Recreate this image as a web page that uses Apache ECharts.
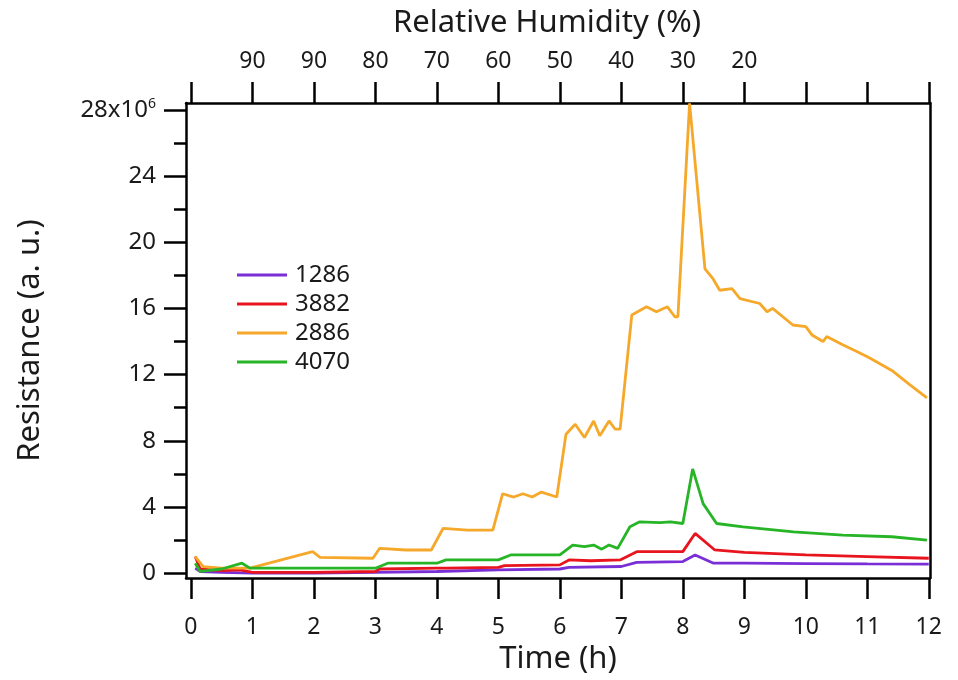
<!DOCTYPE html>
<html>
<head>
<meta charset="utf-8">
<script src="https://cdn.jsdelivr.net/npm/echarts@6/dist/echarts.min.js"></script>
<style>
  html, body { margin: 0; padding: 0; background: #fff; }
  #chart { width: 958px; height: 680px; }
</style>
</head>
<body>
<div id="chart"></div>
<script>
// time (h) ticks and humidity labels on the top axis
const hourTicks = [0, 1, 2, 3, 4, 5, 6, 7, 8, 9, 10, 11, 12];
const humidityLabels = ['', '90', '90', '80', '70', '60', '50', '40', '30', '20', '', '', ''];
const resistanceTicks = [0, 4, 8, 12, 16, 20, 24, 28];
const resistanceMinor = [2, 6, 10, 14, 18, 22, 26];

// [time h, resistance x10^6]
const s1286 = [
  [0.07, 0.3], [0.15, 0.1], [0.5, 0.05], [1, 0.0], [2, 0.0], [3, 0.05], [4, 0.1],
  [5, 0.2], [6, 0.25], [6.15, 0.35], [7, 0.4], [7.25, 0.65], [8, 0.7], [8.2, 1.1],
  [8.5, 0.6], [9, 0.6], [10, 0.58], [11, 0.56], [12, 0.55]
];
const s3882 = [
  [0.07, 1.0], [0.15, 0.25], [0.5, 0.15], [0.8, 0.2], [1, 0.05], [2, 0.05], [3, 0.1],
  [3.07, 0.25], [4, 0.3], [4.15, 0.3], [5, 0.35], [5.1, 0.45], [6, 0.5], [6.15, 0.8],
  [6.5, 0.75], [6.98, 0.8], [7.25, 1.3], [8, 1.3], [8.2, 2.4], [8.52, 1.4], [9, 1.25],
  [10, 1.1], [11, 1.0], [12, 0.9]
];
const s2886 = [
  [0.07, 1.0], [0.2, 0.4], [0.5, 0.3], [0.96, 0.3], [1.98, 1.3], [2.1, 0.95], [2.96, 0.9],
  [3.07, 1.5], [3.5, 1.4], [3.91, 1.4], [4.1, 2.7], [4.5, 2.6], [4.91, 2.6], [5.07, 4.8],
  [5.25, 4.6], [5.4, 4.8], [5.55, 4.6], [5.7, 4.9], [5.95, 4.6], [6.1, 8.4], [6.25, 9.0],
  [6.4, 8.2], [6.55, 9.2], [6.65, 8.3], [6.8, 9.2], [6.9, 8.7], [6.98, 8.7], [7.17, 15.6],
  [7.41, 16.1], [7.57, 15.8], [7.75, 16.1], [7.87, 15.5], [7.92, 15.5], [8.11, 28.4],
  [8.36, 18.4], [8.49, 17.8], [8.6, 17.1], [8.8, 17.2], [8.93, 16.6], [9.25, 16.3],
  [9.37, 15.8], [9.46, 16.0], [9.79, 15.0], [10.0, 14.9], [10.1, 14.4], [10.28, 14.0],
  [10.34, 14.3], [10.6, 13.8], [10.83, 13.4], [11.04, 13.0], [11.42, 12.2], [11.69, 11.4],
  [11.97, 10.6]
];
const s4070 = [
  [0.07, 0.6], [0.15, 0.1], [0.5, 0.25], [0.83, 0.6], [0.96, 0.3], [2, 0.3], [3, 0.3],
  [3.2, 0.6], [4, 0.6], [4.15, 0.8], [5, 0.8], [5.2, 1.1], [6, 1.1], [6.21, 1.7],
  [6.4, 1.6], [6.55, 1.7], [6.68, 1.45], [6.8, 1.7], [6.94, 1.5], [7.14, 2.8], [7.3, 3.1],
  [7.63, 3.05], [7.8, 3.1], [8.0, 3.0], [8.16, 6.3], [8.33, 4.2], [8.55, 3.0], [8.98, 2.8],
  [9.8, 2.5], [10.6, 2.3], [11.4, 2.2], [11.97, 2.0]
];

const FONT = 'Noto Sans';
const INK = '#1a1a1a';

const chart = echarts.init(document.getElementById('chart'));

const axisBase = {
  type: 'value',
  min: -0.08,
  max: 12.02,
  splitLine: { show: false },
  axisLine: { show: true, onZero: false, lineStyle: { color: '#000', width: 2.5 } },
  axisTick: { show: true, inside: false, length: 21, customValues: hourTicks, lineStyle: { color: '#000', width: 2.5 } },
  nameLocation: 'middle'
};

chart.setOption({
  animation: false,
  backgroundColor: '#fff',
  grid: { left: 186, right: 28, top: 103, bottom: 98 },
  legend: {
    orient: 'vertical',
    left: 232,
    top: 258,
    itemWidth: 50,
    itemHeight: 3,
    itemGap: 5,
    icon: 'rect',
    textStyle: { fontFamily: FONT, fontSize: 24, color: INK, padding: [0, 0, 0, 3] },
    data: ['1286', '3882', '2886', '4070']
  },
  xAxis: [
    Object.assign({}, axisBase, {
      position: 'bottom',
      name: 'Time (h)',
      nameGap: 60,
      nameTextStyle: { fontFamily: FONT, fontSize: 31, color: INK },
      axisLabel: { customValues: hourTicks, margin: 38, fontFamily: FONT, fontSize: 23, color: INK }
    }),
    Object.assign({}, axisBase, {
      position: 'top',
      name: 'Relative Humidity (%)',
      nameGap: 64,
      nameTextStyle: { fontFamily: FONT, fontSize: 31, color: INK, padding: [0, 22, 0, 0] },
      axisLabel: {
        customValues: hourTicks, margin: 30, fontFamily: FONT, fontSize: 23, color: INK,
        formatter: function (v) { return humidityLabels[Math.round(v)] || ''; }
      }
    })
  ],
  yAxis: [
    {
      type: 'value',
      min: -0.3,
      max: 28.42,
      position: 'left',
      name: 'Resistance (a. u.)',
      nameLocation: 'middle',
      nameGap: 140,
      nameTextStyle: { fontFamily: FONT, fontSize: 31, color: INK },
      splitLine: { show: false },
      axisLine: { show: true, onZero: false, lineStyle: { color: '#000', width: 2.5 } },
      axisTick: { show: true, length: 22, customValues: resistanceTicks, lineStyle: { color: '#000', width: 2.5 } },
      axisLabel: {
        customValues: resistanceTicks, margin: 30, fontFamily: FONT, fontSize: 24, color: INK,
        formatter: function (v) { return v === 28 ? '{a|28x10}{s|6}' : String(v); },
        rich: {
          a: { fontFamily: FONT, fontSize: 24, color: INK },
          s: { fontFamily: FONT, fontSize: 14, color: INK, verticalAlign: 'top', padding: [0, 0, 12, 0] }
        }
      }
    },
    {
      type: 'value',
      min: -0.3,
      max: 28.42,
      position: 'left',
      splitLine: { show: false },
      axisLine: { show: false, onZero: false },
      axisTick: { show: true, length: 12, customValues: resistanceMinor, lineStyle: { color: '#000', width: 2.5 } },
      axisLabel: { show: false }
    },
    {
      type: 'value',
      min: -0.3,
      max: 28.42,
      position: 'right',
      splitLine: { show: false },
      axisLine: { show: true, onZero: false, lineStyle: { color: '#000', width: 2.5 } },
      axisTick: { show: false },
      axisLabel: { show: false }
    }
  ],
  series: [
    { name: '1286', type: 'line', data: s1286, color: '#7a2fd6' },
    { name: '3882', type: 'line', data: s3882, color: '#e8141e' },
    { name: '2886', type: 'line', data: s2886, color: '#f5a82a' },
    { name: '4070', type: 'line', data: s4070, color: '#27b527' }
  ].map(function (s) {
    return Object.assign(s, {
      showSymbol: false,
      clip: true,
      lineStyle: { width: 2.8 },
      emphasis: { disabled: true }
    });
  })
});
</script>
</body>
</html>
